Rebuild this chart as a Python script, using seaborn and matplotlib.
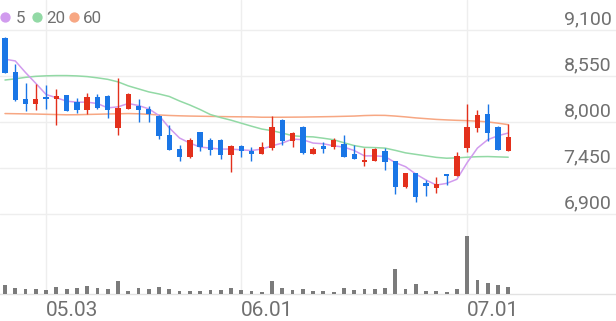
import numpy as np
import pandas as pd
import matplotlib
matplotlib.use("Agg")
import matplotlib.pyplot as plt
import seaborn as sns
from matplotlib import transforms

# ---------------- data ----------------
opens = [9006, 8604, 8284, 8227, 8303, 8275, 8323, 8248, 8155, 8303,
         8315, 7938, 8163, 8203, 8167, 8083, 7850, 7682, 7585, 7882,
         7794, 7794, 7609, 7721, 7665, 7625, 7694, 8034, 7782, 7947,
         7625, 7721, 7706, 7742, 7621, 7532, 7544, 7665, 7541, 7224,
         7393, 7280, 7212, 7376, 7360, 7701, 7935, 8103, 7947, 7665]
closes = [8597, 8267, 8227, 8275, 8279, 8315, 8143, 8155, 8303, 8171,
          8155, 8171, 8344, 8155, 8103, 7842, 7673, 7585, 7794, 7713,
          7673, 7613, 7721, 7658, 7625, 7706, 7942, 7782, 7874, 7641,
          7685, 7682, 7794, 7593, 7561, 7553, 7685, 7532, 7231, 7393,
          7111, 7240, 7260, 7360, 7605, 7942, 8086, 7874, 7673, 7821]
highs = [9020, 8705, 8476, 8456, 8444, 8396, 8332, 8296, 8348, 8336,
         8323, 8537, 8350, 8284, 8203, 8095, 7974, 7734, 7809, 7890,
         7814, 7800, 7734, 7734, 7713, 7761, 8083, 8046, 7882, 7962,
         7713, 7761, 7814, 7850, 7734, 7694, 7690, 7694, 7545, 7395,
         7400, 7312, 7345, 7380, 7646, 8227, 8146, 8227, 7960, 7983]
lows = [8590, 8255, 8143, 8155, 8167, 7974, 8140, 8115, 8098, 8163,
        8055, 7850, 8160, 8002, 8002, 7802, 7670, 7544, 7580, 7665,
        7613, 7561, 7412, 7593, 7544, 7620, 7673, 7734, 7706, 7625,
        7620, 7634, 7682, 7590, 7558, 7481, 7540, 7432, 7144, 7220,
        7051, 7119, 7152, 7252, 7356, 7653, 7882, 7773, 7670, 7660]
ma5 = [8757, 8736, 8597, 8468, 8335, 8296, 8255, 8243, 8243, 8227,
       8175, 8187, 8227, 8203, 8163, 8083, 7935, 7814, 7754, 7706,
       7694, 7682, 7682, 7673, 7665, 7682, 7721, 7754, 7802, 7794,
       7754, 7746, 7721, 7706, 7665, 7601, 7601, 7593, 7520, 7472,
       7384, 7312, 7252, 7272, 7321, 7520, 7694, 7794, 7842, 7874]
ma20 = [8508, 8522, 8540, 8552, 8558, 8561, 8561, 8557, 8549, 8534,
        8516, 8486, 8438, 8402, 8366, 8341, 8311, 8257, 8209, 8155,
        8095, 8059, 8028, 7992, 7956, 7922, 7902, 7874, 7842, 7832,
        7828, 7812, 7794, 7758, 7724, 7703, 7700, 7694, 7667, 7637,
        7619, 7601, 7583, 7573, 7577, 7585, 7591, 7593, 7589, 7585]
ma60 = [8107, 8105, 8103, 8101, 8098, 8095, 8092, 8093, 8096, 8099,
        8102, 8104, 8107, 8104, 8098, 8090, 8084, 8080, 8077, 8075,
        8073, 8071, 8069, 8068, 8067, 8063, 8063, 8063, 8064, 8065,
        8067, 8069, 8071, 8074, 8077, 8083, 8086, 8085, 8077, 8067,
        8055, 8046, 8037, 8031, 8026, 8022, 8016, 8007, 7992, 7974]
volumes = [225000, 142500, 125000, 125000, 100000, 167500, 125000, 142500, 200000, 157500,
           125000, 325000, 75000, 142500, 117500, 175000, 125000, 75000, 82500, 82500,
           100000, 100000, 150000, 100000, 82500, 57500, 325000, 142500, 100000, 125000,
           75000, 75000, 42500, 142500, 100000, 117500, 117500, 142500, 617500, 117500,
           242500, 82500, 75000, 57500, 132500, 1450000, 350000, 282500, 225000, 182500]
tick_pos = [4, 23, 45]
tick_labels = ["05.03", "06.01", "07.01"]
price_ticks = [6900, 7450, 8000, 8550, 9100]
legend_labels = ["5", "20", "60"]

# ---------------- style ----------------
UP, DOWN = "#e3301c", "#1a76e6"
MA_COLORS = ["#d19bee", "#92d9a5", "#f7a783"]
TXT = "#707070"
GRID = "#eeeeee"

sns.set_theme(style="white")
plt.rcParams["font.family"] = ["Roboto", "DejaVu Sans"]

W, H = 616, 321
fig = plt.figure(figsize=(W / 100, H / 100), dpi=100, facecolor="white")
base = (H - 294) / H
ax = fig.add_axes([0, base, 1, 294 / H])
axv = fig.add_axes([0, base, 1, 80 / H])
ax.set_zorder(1)
axv.set_zorder(2)
for a in (ax, axv):
    a.patch.set_visible(False)

df = pd.DataFrame({"i": np.arange(len(opens)), "open": opens, "close": closes,
                   "high": highs, "low": lows, "ma5": ma5, "ma20": ma20,
                   "ma60": ma60, "vol": volumes})

xlim = (-5 / 10.27, (W - 5) / 10.27)

# moving averages
for col, c in zip(["ma60", "ma20", "ma5"], MA_COLORS[::-1]):
    sns.lineplot(data=df, x="i", y=col, ax=ax, color=c, lw=1.1, zorder=2)

# candles
up = df["close"] >= df["open"]
colors = np.where(up, UP, DOWN)
body_low = np.minimum(df["open"], df["close"])
body_h = np.maximum(np.abs(df["close"] - df["open"]), 22)
ax.vlines(df["i"], df["low"], df["high"], colors=colors, lw=1.0, zorder=3)
ax.bar(df["i"], body_h, bottom=body_low, width=0.52, color=colors, zorder=4, linewidth=0)

ax.set_xlim(*xlim)
ax.set_ylim(9100 - (294 - 30.5) * 550 / 46, 9100 + 30.5 * 550 / 46)
ax.set_xticks(tick_pos)
ax.set_xticklabels(tick_labels, fontsize=15, color=TXT)
for lbl in ax.get_xticklabels():
    lbl.set_ha("left")
    lbl.set_va("baseline")
ax.tick_params(axis="x", length=0, pad=22.5 * 0.72)
ax.set_yticks(price_ticks)
ax.tick_params(axis="y", length=0, labelleft=False, labelright=False)
ax.grid(True, color=GRID, lw=1)
ax.set_xlabel("")
ax.set_ylabel("")
for s in ["top", "left", "right"]:
    ax.spines[s].set_visible(False)
ax.spines["bottom"].set_color("#e2e2e2")
ax.spines["bottom"].set_linewidth(1)

# price labels (above their gridlines, right aligned)
trans = transforms.blended_transform_factory(ax.transAxes, ax.transData)
trans = transforms.offset_copy(trans, fig=fig, x=0, y=6.5, units="dots")
for v in price_ticks:
    ax.text(611.5 / W, v, f"{v:,}", transform=trans, ha="right", va="baseline",
            fontsize=14, color=TXT)

# volume
sns.barplot(data=df, x="i", y="vol", ax=axv, color="#7b7b7b", width=0.37,
            native_scale=True, saturation=1, linewidth=0, zorder=2)
axv.set_xlim(*xlim)
axv.set_ylim(0, 2000000)
axv.axis("off")

# legend
for k, (lab, c) in enumerate(zip(legend_labels, MA_COLORS)):
    dx = [5, 37, 74][k]
    tx = [15.5, 46.5, 83][k]
    fig.add_artist(plt.Line2D([dx / W], [1 - 16.8 / H], marker="o", markersize=6.4,
                              color=c, linestyle="", transform=fig.transFigure))
    fig.text(tx / W, 1 - 22.7 / H, lab, ha="left", va="baseline", fontsize=12.2, color=TXT)

fig.savefig("out.png", dpi=100, facecolor="white")
